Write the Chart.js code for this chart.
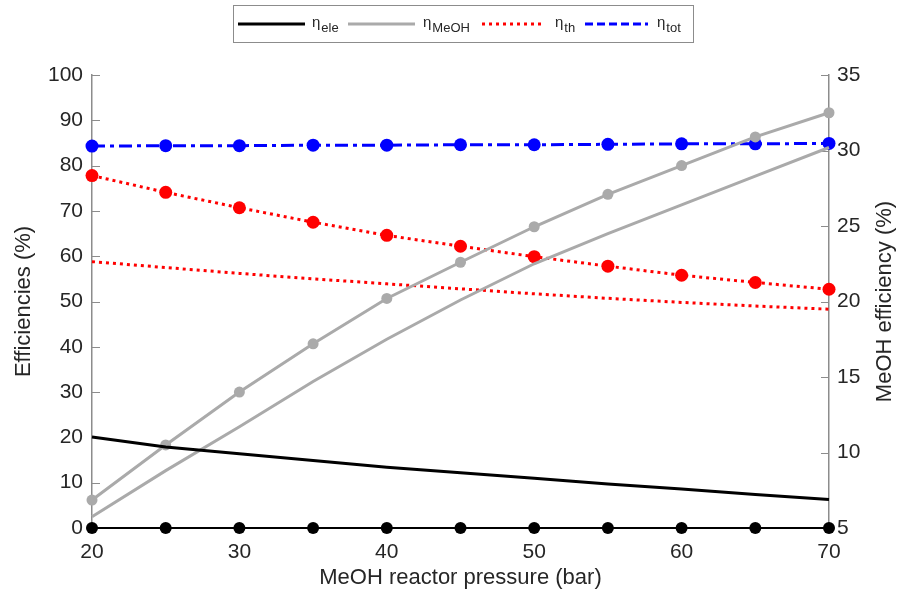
<!DOCTYPE html>
<html>
<head>
<meta charset="utf-8">
<script src="https://cdn.jsdelivr.net/npm/chart.js@4.4.1/dist/chart.umd.min.js"></script>
<style>
html, body { margin: 0; padding: 0; background: #fff; }
#wrap { width: 901px; height: 603px; }
</style>
</head>
<body>
<div id="wrap"><canvas id="chart" width="901" height="603"></canvas></div>
<script>
// MeOH reactor pressure (bar)
const pressure = [20, 25, 30, 35, 40, 45, 50, 55, 60, 65, 70];

// left axis series (%)
const etaEle       = [20.1, 17.9, 16.4, 14.9, 13.4, 12.2, 11.0, 9.7, 8.6, 7.4, 6.3];
const etaEleMarked = [0, 0, 0, 0, 0, 0, 0, 0, 0, 0, 0];
const etaThMarked  = [77.8, 74.1, 70.7, 67.5, 64.6, 62.2, 59.9, 57.8, 55.8, 54.2, 52.7];
const etaTh        = [58.8, 57.5, 56.2, 55.0, 53.9, 52.8, 51.7, 50.7, 49.8, 49.0, 48.3];
const etaTot       = [84.3, 84.4, 84.4, 84.5, 84.5, 84.6, 84.6, 84.7, 84.8, 84.8, 84.9];

// right axis series (MeOH efficiency, %)
const etaMeohMarked = [6.85, 10.5, 14.0, 17.2, 20.2, 22.6, 24.95, 27.1, 29.0, 30.9, 32.5];
const etaMeoh       = [5.75, 8.8, 11.7, 14.7, 17.5, 20.1, 22.5, 24.5, 26.4, 28.3, 30.2];

// tick labels
const xTicks = [20, 30, 40, 50, 60, 70];
const leftTicks = [0, 10, 20, 30, 40, 50, 60, 70, 80, 90, 100];
const rightTicks = [5, 10, 15, 20, 25, 30, 35];

// legend
const legendItems = [
    { sub: 'ele', color: '#000000', dash: [] },
    { sub: 'MeOH', color: '#aaaaaa', dash: [] },
    { sub: 'th', color: '#ff0000', dash: [3, 4] },
    { sub: 'tot', color: '#0000ff', dash: [8, 4] }
];
const rightTitle = 'MeOH efficiency (%)';

const TEXT = '#262626';
const AXIS = '#8c8c8c';
const FONT = '"Liberation Sans", Arial, sans-serif';

function pts(values) {
    return pressure.map((p, i) => ({ x: p, y: values[i] }));
}

function fixTicks(list) {
    return scale => { scale.ticks = list.map(v => ({ value: v })); };
}

// inward tick marks like the original figure
const innerTicks = {
    id: 'innerTicks',
    beforeDatasetsDraw(chart) {
        const ctx = chart.ctx;
        const { left, right } = chart.chartArea;
        const yL = chart.scales.yL, yR = chart.scales.yR;
        ctx.save();
        ctx.strokeStyle = AXIS;
        ctx.lineWidth = 1;
        yL.ticks.forEach(t => {
            const y = Math.round(yL.getPixelForValue(t.value)) + 0.5;
            ctx.beginPath(); ctx.moveTo(left, y); ctx.lineTo(left + 8, y); ctx.stroke();
        });
        yR.ticks.forEach(t => {
            const y = Math.round(yR.getPixelForValue(t.value)) + 0.5;
            ctx.beginPath(); ctx.moveTo(right, y); ctx.lineTo(right - 8, y); ctx.stroke();
        });
        // right axis title reads bottom-to-top, same as the left one
        const { top, bottom } = chart.chartArea;
        ctx.translate(885, (top + bottom) / 2);
        ctx.rotate(-Math.PI / 2);
        ctx.fillStyle = TEXT;
        ctx.font = '22px ' + FONT;
        ctx.textAlign = 'center';
        ctx.textBaseline = 'middle';
        ctx.fillText(rightTitle, 0, 0);
        ctx.restore();
    }
};

// boxed legend on top with subscripted labels
const boxLegend = {
    id: 'boxLegend',
    afterDraw(chart) {
        const ctx = chart.ctx;
        const box = { x: 233, y: 5, w: 460, h: 37 };
        const lineX = [238, 348, 482, 585];
        const lineW = [67, 67, 63, 63];
        const textX = [312, 423, 555, 657];
        const cy = 24;
        ctx.save();
        ctx.fillStyle = '#ffffff';
        ctx.fillRect(box.x, box.y, box.w, box.h);
        ctx.strokeStyle = '#8c8c8c';
        ctx.lineWidth = 1;
        ctx.strokeRect(box.x + 0.5, box.y + 0.5, box.w, box.h);
        legendItems.forEach((it, i) => {
            ctx.strokeStyle = it.color;
            ctx.lineWidth = 3;
            ctx.setLineDash(it.dash);
            ctx.beginPath();
            ctx.moveTo(lineX[i], cy);
            ctx.lineTo(lineX[i] + lineW[i], cy);
            ctx.stroke();
            ctx.setLineDash([]);
            ctx.fillStyle = TEXT;
            ctx.textBaseline = 'alphabetic';
            ctx.font = '15px ' + FONT;
            ctx.fillText('η', textX[i], cy + 3);
            const w = ctx.measureText('η').width;
            ctx.font = '13px ' + FONT;
            ctx.fillText(it.sub, textX[i] + w + 1, cy + 8);
        });
        ctx.restore();
    }
};

const ctx = document.getElementById('chart').getContext('2d');
new Chart(ctx, {
    type: 'line',
    data: {
        datasets: [
            {
                label: 'eta_ele', data: pts(etaEle), yAxisID: 'yL',
                borderColor: '#000000', borderWidth: 3, pointRadius: 0, clip: false
            },
            {
                label: 'eta_ele marked', data: pts(etaEleMarked), yAxisID: 'yL',
                borderColor: '#000000', backgroundColor: '#000000', borderWidth: 2,
                pointRadius: 6, pointBorderWidth: 0, clip: false
            },
            {
                label: 'eta_MeOH', data: pts(etaMeoh), yAxisID: 'yR',
                borderColor: '#aaaaaa', borderWidth: 3, pointRadius: 0, clip: false
            },
            {
                label: 'eta_MeOH marked', data: pts(etaMeohMarked), yAxisID: 'yR',
                borderColor: '#aaaaaa', backgroundColor: '#aaaaaa', borderWidth: 3,
                pointRadius: 5.5, pointBorderWidth: 0, clip: false
            },
            {
                label: 'eta_th', data: pts(etaTh), yAxisID: 'yL',
                borderColor: '#ff0000', borderWidth: 3, borderDash: [3, 4],
                pointRadius: 0, clip: false
            },
            {
                label: 'eta_th marked', data: pts(etaThMarked), yAxisID: 'yL',
                borderColor: '#ff0000', backgroundColor: '#ff0000', borderWidth: 3,
                borderDash: [3, 4], pointRadius: 6.5, pointBorderWidth: 0, clip: false
            },
            {
                label: 'eta_tot', data: pts(etaTot), yAxisID: 'yL',
                borderColor: '#0000ff', backgroundColor: '#0000ff', borderWidth: 3,
                borderDash: [13, 5, 4, 5], pointRadius: 6.5, pointBorderWidth: 0, clip: false
            }
        ]
    },
    options: {
        responsive: false,
        animation: false,
        devicePixelRatio: 1,
        layout: { padding: { top: 75, left: 0, right: 0, bottom: 0 } },
        plugins: {
            legend: { display: false },
            tooltip: { enabled: false }
        },
        scales: {
            x: {
                type: 'linear', min: 20, max: 70,
                afterBuildTicks: fixTicks(xTicks),
                afterFit: s => { s.height = 75; },
                grid: { display: false, drawTicks: false },
                border: { display: true, color: '#000000', width: 1 },
                ticks: { color: TEXT, padding: 12, font: { family: FONT, size: 21 } },
                title: {
                    display: true, text: 'MeOH reactor pressure (bar)', color: TEXT,
                    font: { family: FONT, size: 22 }, padding: { top: 0, bottom: 12 }
                }
            },
            yL: {
                type: 'linear', position: 'left', min: 0, max: 100,
                afterBuildTicks: fixTicks(leftTicks),
                afterFit: s => { s.width = 92; },
                grid: { display: false, drawTicks: false },
                border: { display: true, color: AXIS, width: 1.5 },
                ticks: { color: TEXT, padding: 9, font: { family: FONT, size: 21 } },
                title: {
                    display: true, text: 'Efficiencies (%)', color: TEXT,
                    font: { family: FONT, size: 22 }, padding: { top: 11, bottom: 0 }
                }
            },
            yR: {
                type: 'linear', position: 'right', min: 5, max: 35,
                afterBuildTicks: fixTicks(rightTicks),
                afterFit: s => { s.width = 72; },
                grid: { display: false, drawTicks: false },
                border: { display: true, color: AXIS, width: 1.5 },
                ticks: { color: TEXT, padding: 8, font: { family: FONT, size: 21 } },
                title: { display: false }
            }
        }
    },
    plugins: [innerTicks, boxLegend]
});
</script>
</body>
</html>
